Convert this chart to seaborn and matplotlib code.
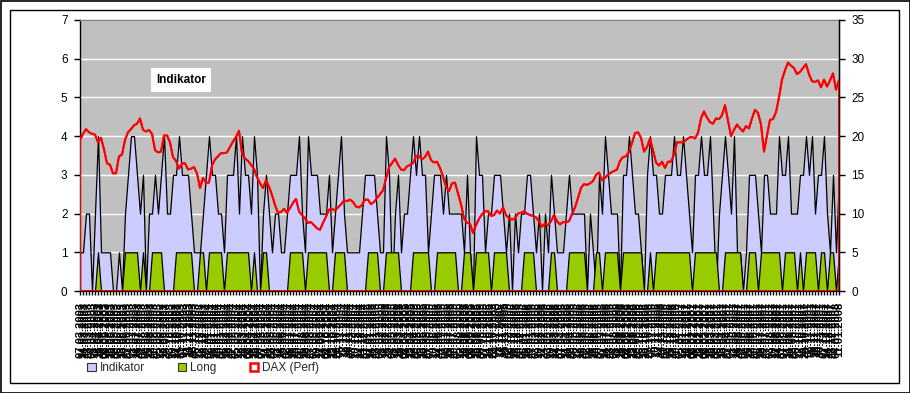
import matplotlib
matplotlib.use("Agg")
import matplotlib.pyplot as plt
import matplotlib.patches as mpatches
import numpy as np
import pandas as pd
import seaborn as sns

# ---------------- data ----------------
indikator = [
    1,1,2,2,0,2,4,1,1,1,
    1,0,0,1,0,2,3,4,4,3,
    2,3,0,2,2,3,2,3,4,2,
    2,3,3,4,3,3,3,2,1,1,
    1,2,3,4,3,3,2,2,1,3,
    3,3,4,2,4,3,3,2,4,3,
    0,2,3,2,1,2,2,1,1,2,
    3,3,3,4,2,1,4,3,3,3,
    2,2,2,3,1,2,3,4,2,1,
    1,1,1,1,2,3,3,3,3,2,
    1,1,4,3,0,2,3,1,2,2,
    3,4,3,4,3,3,1,2,3,3,
    3,2,3,2,2,2,2,2,1,3,
    1,0,4,3,3,1,2,2,3,3,
    3,2,1,2,0,2,1,2,2,3,
    3,2,1,2,0,2,1,3,2,1,
    1,1,2,3,2,2,2,2,2,0,
    2,1,0,3,2,4,3,2,2,2,
    0,3,3,4,3,2,2,1,0,3,
    4,3,3,2,2,3,3,3,4,3,
    3,4,3,2,1,3,3,4,3,3,
    4,2,0,2,3,4,3,2,4,1,
    1,0,1,3,3,3,2,1,3,3,
    2,2,2,4,3,3,4,2,2,2,
    3,3,4,3,4,2,3,3,4,2,
    1,3,1,3,
]

long_pos = [
    0,0,0,0,0,0,1,0,0,0,
    0,0,0,0,0,1,1,1,1,1,
    0,1,0,0,1,1,1,1,0,0,
    0,0,1,1,1,1,1,1,0,0,
    1,1,0,1,1,1,1,1,0,1,
    1,1,1,1,1,1,1,0,1,0,
    0,1,1,0,0,0,0,0,0,0,
    1,1,1,1,1,0,1,1,1,1,
    1,1,1,0,0,1,1,1,1,0,
    0,0,0,0,0,0,1,1,1,1,
    0,0,1,1,1,1,1,0,0,0,
    0,1,1,1,1,1,1,0,0,1,
    1,1,1,1,1,1,0,0,1,1,
    1,0,1,1,1,1,1,0,1,1,
    1,1,1,0,0,0,0,0,1,1,
    1,1,0,0,0,0,0,1,1,0,
    0,0,0,1,1,1,1,1,1,0,
    0,0,1,1,0,1,1,1,1,1,
    0,1,1,1,1,1,1,1,0,0,
    1,0,1,1,1,1,1,1,1,1,
    1,1,1,1,0,1,1,1,1,1,
    1,1,1,0,0,1,1,1,1,1,
    1,0,0,1,1,1,0,1,1,1,
    1,1,1,1,0,1,1,1,1,0,
    1,0,1,1,1,1,0,1,1,0,
    1,1,0,1,
]

dax_perf = [
    19.5,20.3,20.9,20.5,20.3,20.2,19.2,19.8,18.3,16.5,
    16.3,15.2,15.2,17.4,17.6,19.5,20.5,20.9,21.4,21.6,
    22.3,20.8,20.6,20.8,20.3,18.2,17.9,18.0,20.1,20.1,
    19.2,17.3,16.8,15.8,16.5,16.5,15.7,15.8,16.0,15.2,
    13.3,14.6,14.0,14.0,16.2,17.0,17.4,17.8,17.8,17.9,
    18.6,19.3,19.9,20.7,17.8,17.1,16.8,16.3,15.8,14.7,
    13.9,13.3,14.3,13.5,12.4,11.1,10.1,10.2,10.6,10.1,
    10.7,11.4,11.9,10.3,9.8,9.4,8.8,8.9,8.5,8.1,
    7.9,8.8,9.6,10.5,10.6,10.4,10.8,11.2,11.7,11.6,
    11.8,11.5,10.9,10.8,11.1,11.8,11.8,11.2,11.5,12.0,
    12.5,13.0,14.5,16.0,16.5,17.1,16.3,15.7,15.6,16.1,
    16.3,16.5,17.4,17.4,17.0,17.3,18.0,16.9,16.6,16.7,
    15.9,14.8,13.5,12.9,13.9,14.0,12.6,11.2,9.4,8.8,
    8.7,7.5,8.5,9.3,9.9,10.3,10.3,9.7,9.8,10.4,
    10.0,10.8,9.8,9.4,9.2,9.4,10.0,10.1,10.3,10.0,
    9.8,9.7,9.5,9.0,8.3,8.7,8.5,9.0,9.8,9.0,
    8.6,8.9,8.9,9.0,9.9,10.8,12.0,13.3,13.8,13.7,
    13.9,14.2,15.0,15.3,14.3,14.6,15.0,15.3,15.5,15.7,
    16.8,17.3,17.4,18.0,19.1,20.4,20.5,19.8,18.0,18.6,
    19.7,18.2,16.6,16.2,16.7,15.9,16.7,16.7,17.6,19.2,
    19.2,19.2,19.5,19.8,19.9,19.7,20.4,22.3,23.2,22.4,
    21.8,21.6,22.3,22.2,22.7,24.0,22.0,20.0,20.8,21.5,
    21.0,20.6,21.3,21.0,22.3,23.4,23.0,21.5,18.0,20.1,
    22.1,22.2,23.1,25.0,27.3,28.5,29.5,29.1,28.8,28.0,
    28.3,28.8,29.3,28.0,27.1,27.0,27.2,26.3,27.3,26.4,
    27.2,28.1,26.0,27.2,
]

n_points = len(indikator)
date_labels = pd.date_range("2003-03-07", periods=n_points, freq="W-FRI").strftime("%d.%m.%Y").tolist()

left_ticks = [0, 1, 2, 3, 4, 5, 6, 7]
right_ticks = [0, 5, 10, 15, 20, 25, 30, 35]
series_names = ["Indikator", "Long", "DAX (Perf)"]

# ---------------- style ----------------
sns.set_style("white")
plt.rcParams["font.family"] = ["Liberation Sans", "DejaVu Sans"]

W, H = 910, 393
fig = plt.figure(figsize=(W / 100, H / 100), dpi=100, facecolor="white")

ax = fig.add_axes([80 / W, 1 - 291 / H, 759 / W, 271 / H])
ax2 = ax.twinx()

df = pd.DataFrame({
    "idx": np.arange(n_points),
    "Indikator": indikator,
    "Long": long_pos,
    "DAX": dax_perf,
})

ax.set_facecolor("#C0C0C0")
ax.set_axisbelow(True)
ax.yaxis.grid(True, color="white", linewidth=1.0)
ax.xaxis.grid(False)

ax.fill_between(df["idx"], 0, df["Indikator"], facecolor="#CCCCFF",
                edgecolor="black", linewidth=0.9, zorder=2)
ax.fill_between(df["idx"], 0, df["Long"], facecolor="#99CC00",
                edgecolor="black", linewidth=0.9, zorder=3)

ax2.fill_between(df["idx"], 0, df["DAX"], facecolor="none",
                 edgecolor="red", linewidth=1.4, zorder=4)
sns.lineplot(data=df, x="idx", y="DAX", ax=ax2, color="red",
             linewidth=1.4, zorder=5, legend=False)
ax2.patch.set_visible(False)

ax.set_xlim(0, n_points - 1)
ax.set_ylim(0, 7)
ax2.set_ylim(0, 35)
ax.set_yticks(left_ticks)
ax2.set_yticks(right_ticks)
ax.set_yticklabels([str(t) for t in left_ticks])
ax2.set_yticklabels([str(t) for t in right_ticks])

ax.set_xticks(df["idx"])
ax.set_xticklabels(date_labels, rotation=90, fontsize=8, fontweight="bold")
ax.set_xlabel("")
ax.set_ylabel("")
ax2.set_xlabel("")
ax2.set_ylabel("")

ax.tick_params(axis="y", direction="out", length=4, width=1, labelsize=8.5,
               pad=5, colors="black", left=True)
ax.tick_params(axis="x", direction="out", length=3, width=1.0, pad=5,
               colors="black", bottom=True)
ax2.tick_params(axis="y", direction="out", length=4, width=1, labelsize=8.5,
                pad=5, colors="black", right=True)

for s in ["top", "right"]:
    ax.spines[s].set_color("#808080")
    ax.spines[s].set_linewidth(1.0)
ax.spines["left"].set_color("black")
ax.spines["left"].set_linewidth(1.0)
ax.spines["bottom"].set_color("black")
for s in ["top", "left", "bottom"]:
    ax2.spines[s].set_visible(False)
ax2.spines["right"].set_color("black")
ax2.spines["right"].set_linewidth(1.0)

# in-plot label
fig.text(181 / W, 1 - 80 / H, "Indikator", ha="center", va="center",
         fontsize=8.5, fontweight="bold", color="black",
         bbox=dict(facecolor="white", edgecolor="none", pad=4))

# legend
handles = [
    mpatches.Patch(facecolor="#CCCCFF", edgecolor="#333333", linewidth=0.8),
    mpatches.Patch(facecolor="#99CC00", edgecolor="#333333", linewidth=0.8),
    mpatches.Patch(facecolor="white", edgecolor="red", linewidth=1.8),
]
fig.legend(handles, series_names, loc="center left",
           bbox_to_anchor=(78 / W, 25 / H), ncol=3, frameon=False,
           fontsize=8.5, handlelength=0.7, handleheight=0.7,
           handletextpad=0.35, columnspacing=2.8, borderpad=0.3)

# borders
fig.patches.append(mpatches.Rectangle((0.5 / W, 0.5 / H), 1 - 1 / W, 1 - 1 / H,
                                      transform=fig.transFigure, fill=False,
                                      edgecolor="black", linewidth=1.2))
fig.patches.append(mpatches.Rectangle((10 / W, 10 / H), 889 / W, 373 / H,
                                      transform=fig.transFigure, fill=False,
                                      edgecolor="black", linewidth=1.0))

fig.savefig("out.png", dpi=100, facecolor="white")
